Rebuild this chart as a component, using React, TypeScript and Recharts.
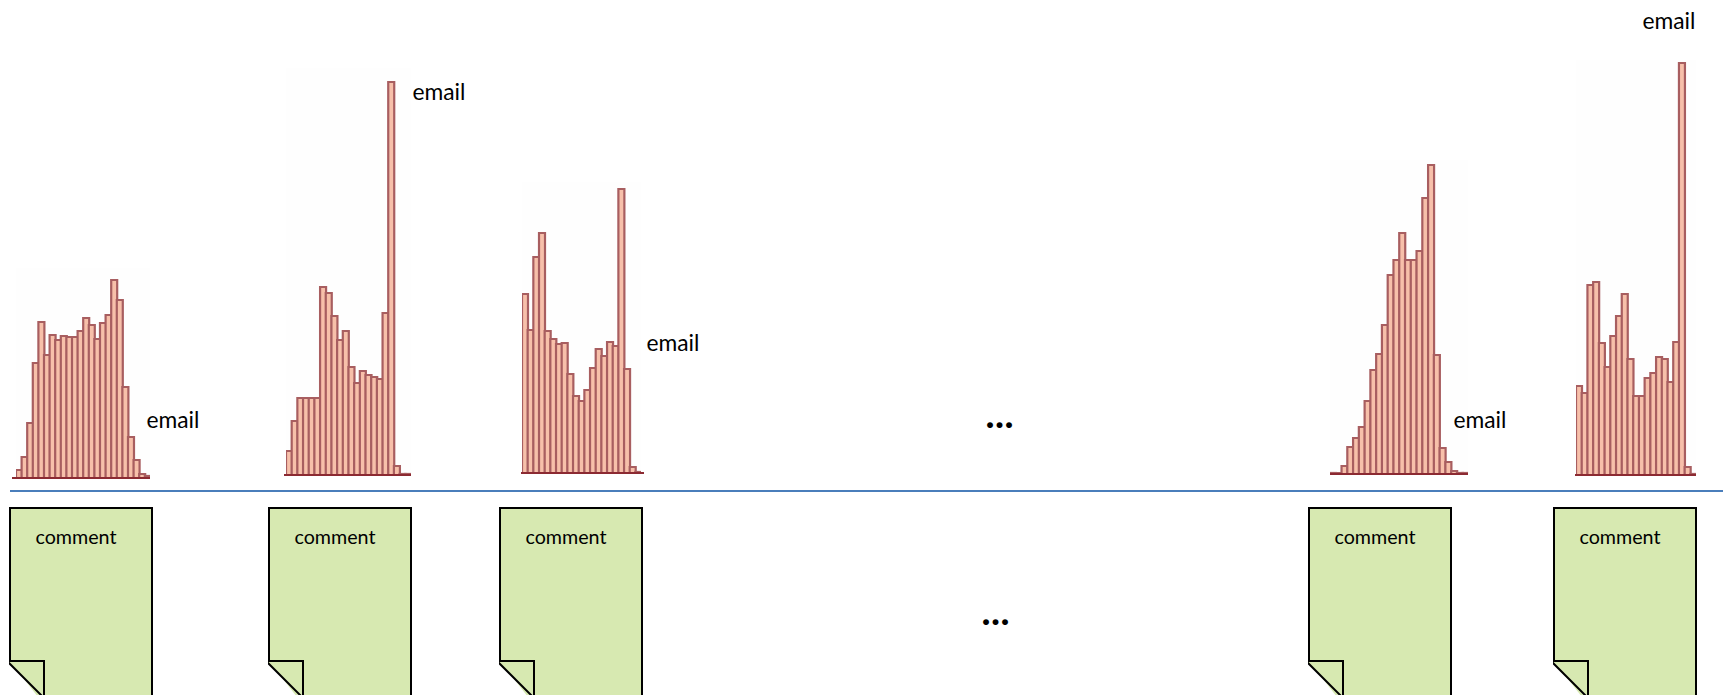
import React from 'react';
import { BarChart, Bar, XAxis, YAxis } from 'recharts';

const CHART_HEIGHT = 440;

// bar heights
const histogramA = [8, 21, 55, 115, 156, 123, 143, 138, 142, 141, 141, 147, 160, 153, 139, 155, 163, 198, 178, 91, 41, 18, 4, 2];
const histogramB = [24, 54, 77, 77, 77, 77, 188, 182, 159, 135, 144, 108, 92, 104, 100, 98, 96, 162, 393, 9, 1, 1];
const histogramC = [179, 143, 216, 240, 142, 134, 129, 130, 99, 77, 72, 83, 105, 124, 117, 131, 127, 284, 104, 6, 1];
const histogramD = [1, 1, 8, 27, 36, 47, 73, 104, 120, 149, 199, 214, 241, 214, 214, 223, 276, 309, 119, 26, 12, 3, 1, 1];
const histogramE = [89, 82, 190, 193, 132, 108, 139, 159, 181, 116, 79, 79, 97, 102, 118, 116, 93, 133, 412, 8, 1];

const histograms = [
  { values: histogramA, left: 16, baseline: 478, pitch: 5.6, axisLeft: 4, axisRight: 0, plotTop: 268 },
  { values: histogramB, left: 286, baseline: 475, pitch: 5.68, axisLeft: 2, axisRight: 0, plotTop: 68 },
  { values: histogramC, left: 522, baseline: 473, pitch: 5.67, axisLeft: 1, axisRight: 3, plotTop: 182 },
  { values: histogramD, left: 1330, baseline: 474, pitch: 5.77, axisLeft: 0, axisRight: 0, plotTop: 160 },
  { values: histogramE, left: 1576, baseline: 475, pitch: 5.72, axisLeft: 1, axisRight: 0, plotTop: 60 },
];

const emailLabels = [
  { x: 173, y: 419 },
  { x: 439, y: 91 },
  { x: 673, y: 342 },
  { x: 1480, y: 419 },
  { x: 1669, y: 20 },
];

const commentLefts = [9, 268, 499, 1308, 1553];

const font = 'Lato, "Open Sans", sans-serif';

type HistogramProps = {
  values: number[];
  left: number;
  baseline: number;
  pitch: number;
  axisLeft: number;
  axisRight: number;
  plotTop: number;
};

const Histogram = ({ values, left, baseline, pitch, axisLeft, axisRight, plotTop }: HistogramProps) => {
  const data = values.map((count, i) => ({ bin: i, count }));
  const width = values.length * pitch;
  return (
    <>
      {/* faint off-white patch behind each pasted histogram */}
      <div style={{ position: 'absolute', left, width, top: plotTop, height: baseline - plotTop, background: '#fefefe' }} />
      <div style={{ position: 'absolute', left, top: baseline - CHART_HEIGHT }}>
        <BarChart
          width={width}
          height={CHART_HEIGHT}
          data={data}
          margin={{ top: 0, right: 0, bottom: 0, left: 0 }}
          barCategoryGap={0}
          style={{ overflow: 'visible' }}
        >
          <XAxis dataKey="bin" hide />
          <YAxis hide domain={[0, CHART_HEIGHT]} />
          <Bar dataKey="count" fill="#f7c0aa" stroke="#a85e60" strokeWidth={2.2} isAnimationActive={false} />
        </BarChart>
        <div style={{ position: 'absolute', left: -axisLeft, width: width + axisLeft + axisRight, top: CHART_HEIGHT - 1, height: 2, background: '#8c2a32' }} />
      </div>
    </>
  );
};

const CommentNote = ({ left }: { left: number }) => (
  <div style={{ position: 'absolute', left, top: 506, width: 145, height: 189, overflow: 'hidden' }}>
    <svg width={147} height={189} style={{ position: 'absolute', left: -2, top: 0 }}>
      <path d="M3 2 H145 V200 H38 L3 155 Z" fill="#d7e9b1" />
      <path d="M3 155 V2 H145 V200" fill="none" stroke="#000" strokeWidth={2} />
      <path d="M0 155 H37 V192 Z" fill="#d7e9b1" stroke="#000" strokeWidth={2} />
    </svg>
    <div style={{ position: 'absolute', left: 2, width: 130, top: 19, textAlign: 'center', fontFamily: font, fontSize: 19.7, color: '#000' }}>comment</div>
  </div>
);

const Ellipsis = ({ left, top }: { left: number; top: number }) => (
  <div style={{ position: 'absolute', left, width: 80, top, textAlign: 'center', fontFamily: font, fontWeight: 900, fontSize: 36, letterSpacing: 1, color: '#000' }}>...</div>
);

const App = () => (
  <div style={{ position: 'absolute', left: 0, top: 0, width: 1723, height: 695, background: '#fff', overflow: 'hidden' }}>
    {histograms.map((h) => (
      <Histogram key={h.left} {...h} />
    ))}
    {emailLabels.map((p) => (
      <div key={p.x} style={{ position: 'absolute', left: p.x - 40, top: p.y - 14, width: 80, textAlign: 'center', fontFamily: font, fontSize: 22.8, color: '#000' }}>email</div>
    ))}
    <div style={{ position: 'absolute', left: 10, top: 490, width: 1713, height: 2, background: '#4a7ebb' }} />
    {commentLefts.map((left) => (
      <CommentNote key={left} left={left} />
    ))}
    <Ellipsis left={960} top={392} />
    <Ellipsis left={956} top={589} />
  </div>
);

export default App;
